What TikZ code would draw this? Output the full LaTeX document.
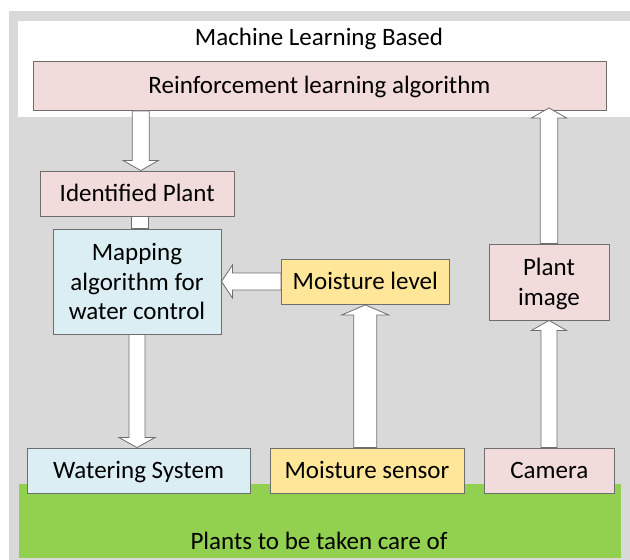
\documentclass[tikz,border=0pt]{standalone}
\usepackage{fontspec}
\setmainfont{Carlito}
\usetikzlibrary{calc}
\definecolor{bggray}{HTML}{D9D9D9}
\definecolor{pinkfill}{HTML}{F2DCDB}
\definecolor{bluefill}{HTML}{DBEEF4}
\definecolor{yellowfill}{HTML}{FFE699}
\definecolor{greenfill}{HTML}{92D050}
\definecolor{edgegray}{HTML}{6E6E6E}
\tikzset{
  box/.style={draw=edgegray, line width=0.9pt, inner sep=0pt, align=center,
    font=\fontsize{25}{29.5}\selectfont},
  oneline/.style={box, text height=20pt, text depth=5pt},
  lbl/.style={inner sep=0pt, anchor=base, font=\fontsize{25}{29.5}\selectfont},
  barrow/.style={draw=edgegray, fill=white, line width=0.8pt, line join=miter}
}
% vertical block arrow: #1 tail, #2 tip, #3 shaft half, #4 head half, #5 head length
\newcommand{\vbarrow}[5]{%
  \draw[barrow] let \p1=(#1), \p2=(#2), \n1={\y2-sign(\y2-\y1)*#5} in
    (\x2-#3,\y1) -- (\x2-#3,\n1) -- (\x2-#4,\n1) -- (\x2,\y2)
    -- (\x2+#4,\n1) -- (\x2+#3,\n1) -- (\x2+#3,\y1) -- cycle;}
% horizontal block arrow
\newcommand{\hbarrow}[5]{%
  \draw[barrow] let \p1=(#1), \p2=(#2), \n1={\x2-sign(\x2-\x1)*#5} in
    (\x1,\y2-#3) -- (\n1,\y2-#3) -- (\n1,\y2-#4) -- (\x2,\y2)
    -- (\n1,\y2+#4) -- (\n1,\y2+#3) -- (\x1,\y2+#3) -- cycle;}
\begin{document}
\begin{tikzpicture}[x=1pt,y=-1pt]
\useasboundingbox (0,0) rectangle (630,560);
% backgrounds
\fill[bggray] (9,11) rectangle (630,560);
\fill[white] (18,21) rectangle (630,117);
\fill[greenfill] (18.5,484) rectangle (621,558);
% labels
\node[lbl] (title) at (319,45) {Machine Learning Based};
\node[lbl] (plants) at (319,549) {Plants to be taken care of};
% boxes
\node[oneline, fill=pinkfill, minimum width=573pt, minimum height=49.5pt] (rl) at (319.5,85.75) {Reinforcement learning algorithm};
\node[oneline, fill=pinkfill, minimum width=193.5pt, minimum height=45pt] (idp) at (137.25,193.5) {Identified Plant};
\node[box, fill=bluefill, minimum width=168pt, minimum height=105pt] (map) at (137,281.5) {Mapping\\algorithm for\\water control};
\node[oneline, fill=yellowfill, minimum width=167.5pt, minimum height=45pt] (ml) at (365.25,282) {Moisture level};
\node[box, fill=pinkfill, minimum width=120pt, minimum height=76pt, text depth=0pt] (pi) at (549,282) {Plant\\image};
\node[oneline, fill=bluefill, minimum width=223pt, minimum height=45pt] (wat) at (138.5,470.5) {Watering System};
\node[oneline, fill=yellowfill, minimum width=194pt, minimum height=45pt] (ms) at (367,470.5) {Moisture sensor};
\node[oneline, fill=pinkfill, minimum width=129.5pt, minimum height=45pt] (cam) at (549.25,470.5) {Camera};
% connectors
\vbarrow{rl.south}{$(idp.north)+(3.5,0)$}{8.5pt}{17.5pt}{10pt}
\draw[barrow] ($(idp.south)+(-6.25,0)$) rectangle ($(map.north)+(11,0)$);
\vbarrow{map.south}{$(wat.north)+(-1.5,0)$}{8pt}{18pt}{10pt}
\vbarrow{ms.north}{ml.south}{11.5pt}{23.5pt}{10pt}
\hbarrow{ml.west}{map.east}{8.5pt}{16.5pt}{11pt}
\vbarrow{cam.north}{pi.south}{8pt}{17.5pt}{10pt}
\vbarrow{pi.north}{$(rl.south)+(229.5,-3)$}{8.8pt}{17.5pt}{10pt}
\end{tikzpicture}
\end{document}
